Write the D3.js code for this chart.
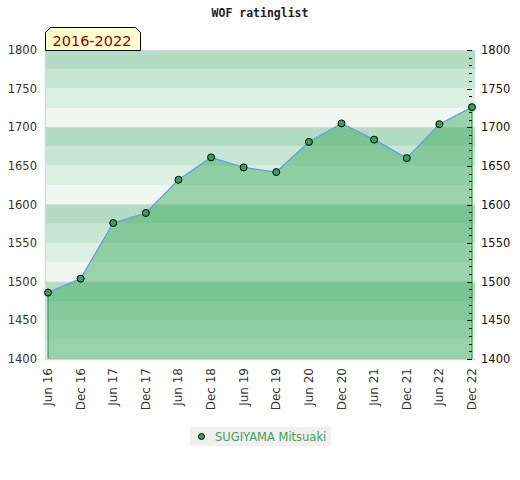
<!DOCTYPE html>
<html>
<head>
<meta charset="utf-8">
<script src="https://cdn.jsdelivr.net/npm/d3@7"></script>
<style>
  body { margin: 0; background: #fff; }
  svg { display: block; }
</style>
</head>
<body>
<div id="chart"></div>
<script>
// periods and ratings
const periods = ['Jun 16', 'Dec 16', 'Jun 17', 'Dec 17', 'Jun 18', 'Dec 18', 'Jun 19',
    'Dec 19', 'Jun 20', 'Dec 20', 'Jun 21', 'Dec 21', 'Jun 22', 'Dec 22'];
const ratings = [1486, 1504, 1576, 1589, 1632, 1661, 1648, 1642, 1681, 1705, 1684, 1660, 1704, 1726];
const yTicks = [1400, 1450, 1500, 1550, 1600, 1650, 1700, 1750, 1800];
const playerName = 'SUGIYAMA Mitsuaki';
const titleText = 'WOF ratinglist';
const tabText = '2016-2022';

const WIDTH = 520;
const HEIGHT = 480;
const PLOT = { left: 45, right: 475, top: 50, bottom: 359 };

const svg = d3.select('#chart')
    .append('svg')
    .attr('width', WIDTH)
    .attr('height', HEIGHT);

const xScale = d3.scalePoint()
    .domain(periods)
    .range([48, 472]);

const yScale = d3.scaleLinear()
    .domain([1400, 1800])
    .range([PLOT.bottom, PLOT.top]);

// Background bands, 25 points each, 4 shades repeating
const bandColors = ['#b3dcc3', '#c8e6d4', '#dcefe3', '#eff7f2'];
const bands = d3.range(1800, 1400, -25);
svg.append('g')
    .selectAll('rect')
    .data(bands)
    .enter()
    .append('rect')
    .attr('x', PLOT.left)
    .attr('width', PLOT.right - PLOT.left)
    .attr('y', d => yScale(d))
    .attr('height', d => yScale(d - 25) - yScale(d))
    .attr('fill', (d, i) => bandColors[i % 4]);

// grid lines every 100
svg.append('g')
    .selectAll('line')
    .data([1500, 1600, 1700, 1800])
    .enter()
    .append('line')
    .attr('x1', PLOT.left)
    .attr('x2', PLOT.right)
    .attr('y1', d => yScale(d) + 0.5)
    .attr('y2', d => yScale(d) + 0.5)
    .attr('stroke', '#d8d8d8')
    .attr('stroke-width', 1);

// plot frame left/bottom
svg.append('path')
    .attr('d', `M${PLOT.left + 0.5},${PLOT.top} V${PLOT.bottom + 0.5} H${PLOT.right}`)
    .attr('fill', 'none')
    .attr('stroke', '#d8d8d8')
    .attr('stroke-width', 1.5);

// Area
const area = d3.area()
    .x((d, i) => xScale(periods[i]))
    .y0(yScale(1400))
    .y1(d => yScale(d));

svg.append('path')
    .datum(ratings)
    .attr('d', area)
    .attr('fill', 'rgb(60,170,95)')
    .attr('fill-opacity', 0.48);

// Vertical area edges
svg.append('g')
    .selectAll('line')
    .data([0, ratings.length - 1])
    .enter()
    .append('line')
    .attr('x1', i => xScale(periods[i]))
    .attr('x2', i => xScale(periods[i]))
    .attr('y1', i => yScale(ratings[i]))
    .attr('y2', yScale(1400))
    .attr('stroke', '#2ea44f')
    .attr('stroke-width', 1.2);

// Line
const line = d3.line()
    .x((d, i) => xScale(periods[i]))
    .y(d => yScale(d));

svg.append('path')
    .datum(ratings)
    .attr('d', line)
    .attr('fill', 'none')
    .attr('stroke', '#5ea3d8')
    .attr('stroke-width', 1.3);

// Right axis ticks (inward)
const rightX = xScale(periods[periods.length - 1]);
svg.append('g')
    .selectAll('line')
    .data(d3.range(1400, 1801, 10))
    .enter()
    .append('line')
    .attr('x1', d => d % 50 === 0 ? rightX - 5 : rightX - 3)
    .attr('x2', rightX)
    .attr('y1', d => Math.round(yScale(d)) + 0.5)
    .attr('y2', d => Math.round(yScale(d)) + 0.5)
    .attr('stroke', '#000')
    .attr('stroke-width', 1);

// Markers
svg.append('g')
    .selectAll('circle')
    .data(ratings)
    .enter()
    .append('circle')
    .attr('cx', (d, i) => xScale(periods[i]))
    .attr('cy', d => yScale(d))
    .attr('r', 3.5)
    .attr('fill', '#3a9e5f')
    .attr('stroke', '#000')
    .attr('stroke-width', 1);

// Y labels left and right
svg.append('g')
    .selectAll('text')
    .data(yTicks)
    .enter()
    .append('text')
    .attr('x', 37)
    .attr('y', d => yScale(d) + 4)
    .attr('text-anchor', 'end')
    .attr('font-family', 'DejaVu Sans')
    .attr('font-size', 11.5)
    .attr('fill', '#333')
    .text(d => d);

svg.append('g')
    .selectAll('text')
    .data(yTicks)
    .enter()
    .append('text')
    .attr('x', 481)
    .attr('y', d => yScale(d) + 4)
    .attr('font-family', 'DejaVu Sans')
    .attr('font-size', 11.5)
    .attr('fill', '#111')
    .text(d => d);

// X labels rotated
svg.append('g')
    .selectAll('text')
    .data(periods)
    .enter()
    .append('text')
    .attr('transform', d => `translate(${xScale(d) + 4},368) rotate(-90)`)
    .attr('text-anchor', 'end')
    .attr('font-family', 'DejaVu Sans')
    .attr('font-size', 12)
    .attr('fill', '#333')
    .text(d => d);

// Title
svg.append('text')
    .attr('x', 260)
    .attr('y', 17)
    .attr('text-anchor', 'middle')
    .attr('font-family', 'DejaVu Sans Mono')
    .attr('font-weight', 'bold')
    .attr('font-size', 11.5)
    .attr('fill', '#222')
    .text(titleText);

// Tab
svg.append('path')
    .attr('d', 'M45.5,50.5 V32.5 L50.5,27.5 H135.5 L140.5,32.5 V50.5 Z')
    .attr('fill', '#ffffcc')
    .attr('stroke', '#000')
    .attr('stroke-width', 1);

svg.append('text')
    .attr('x', 92)
    .attr('y', 46)
    .attr('text-anchor', 'middle')
    .attr('font-family', 'DejaVu Sans')
    .attr('font-size', 14.5)
    .attr('fill', '#8b0000')
    .text(tabText);

// Legend
const legend = svg.append('g');
legend.append('rect')
    .attr('x', 190)
    .attr('y', 427)
    .attr('width', 141)
    .attr('height', 19)
    .attr('fill', '#f0f0f0');
legend.append('circle')
    .attr('cx', 201.5)
    .attr('cy', 436.5)
    .attr('r', 3)
    .attr('fill', '#3a9e5f')
    .attr('stroke', '#000')
    .attr('stroke-width', 1);
legend.append('text')
    .attr('x', 215)
    .attr('y', 441)
    .attr('font-family', 'DejaVu Sans')
    .attr('font-size', 11.5)
    .attr('fill', '#3aa35a')
    .text(playerName);
</script>
</body>
</html>
